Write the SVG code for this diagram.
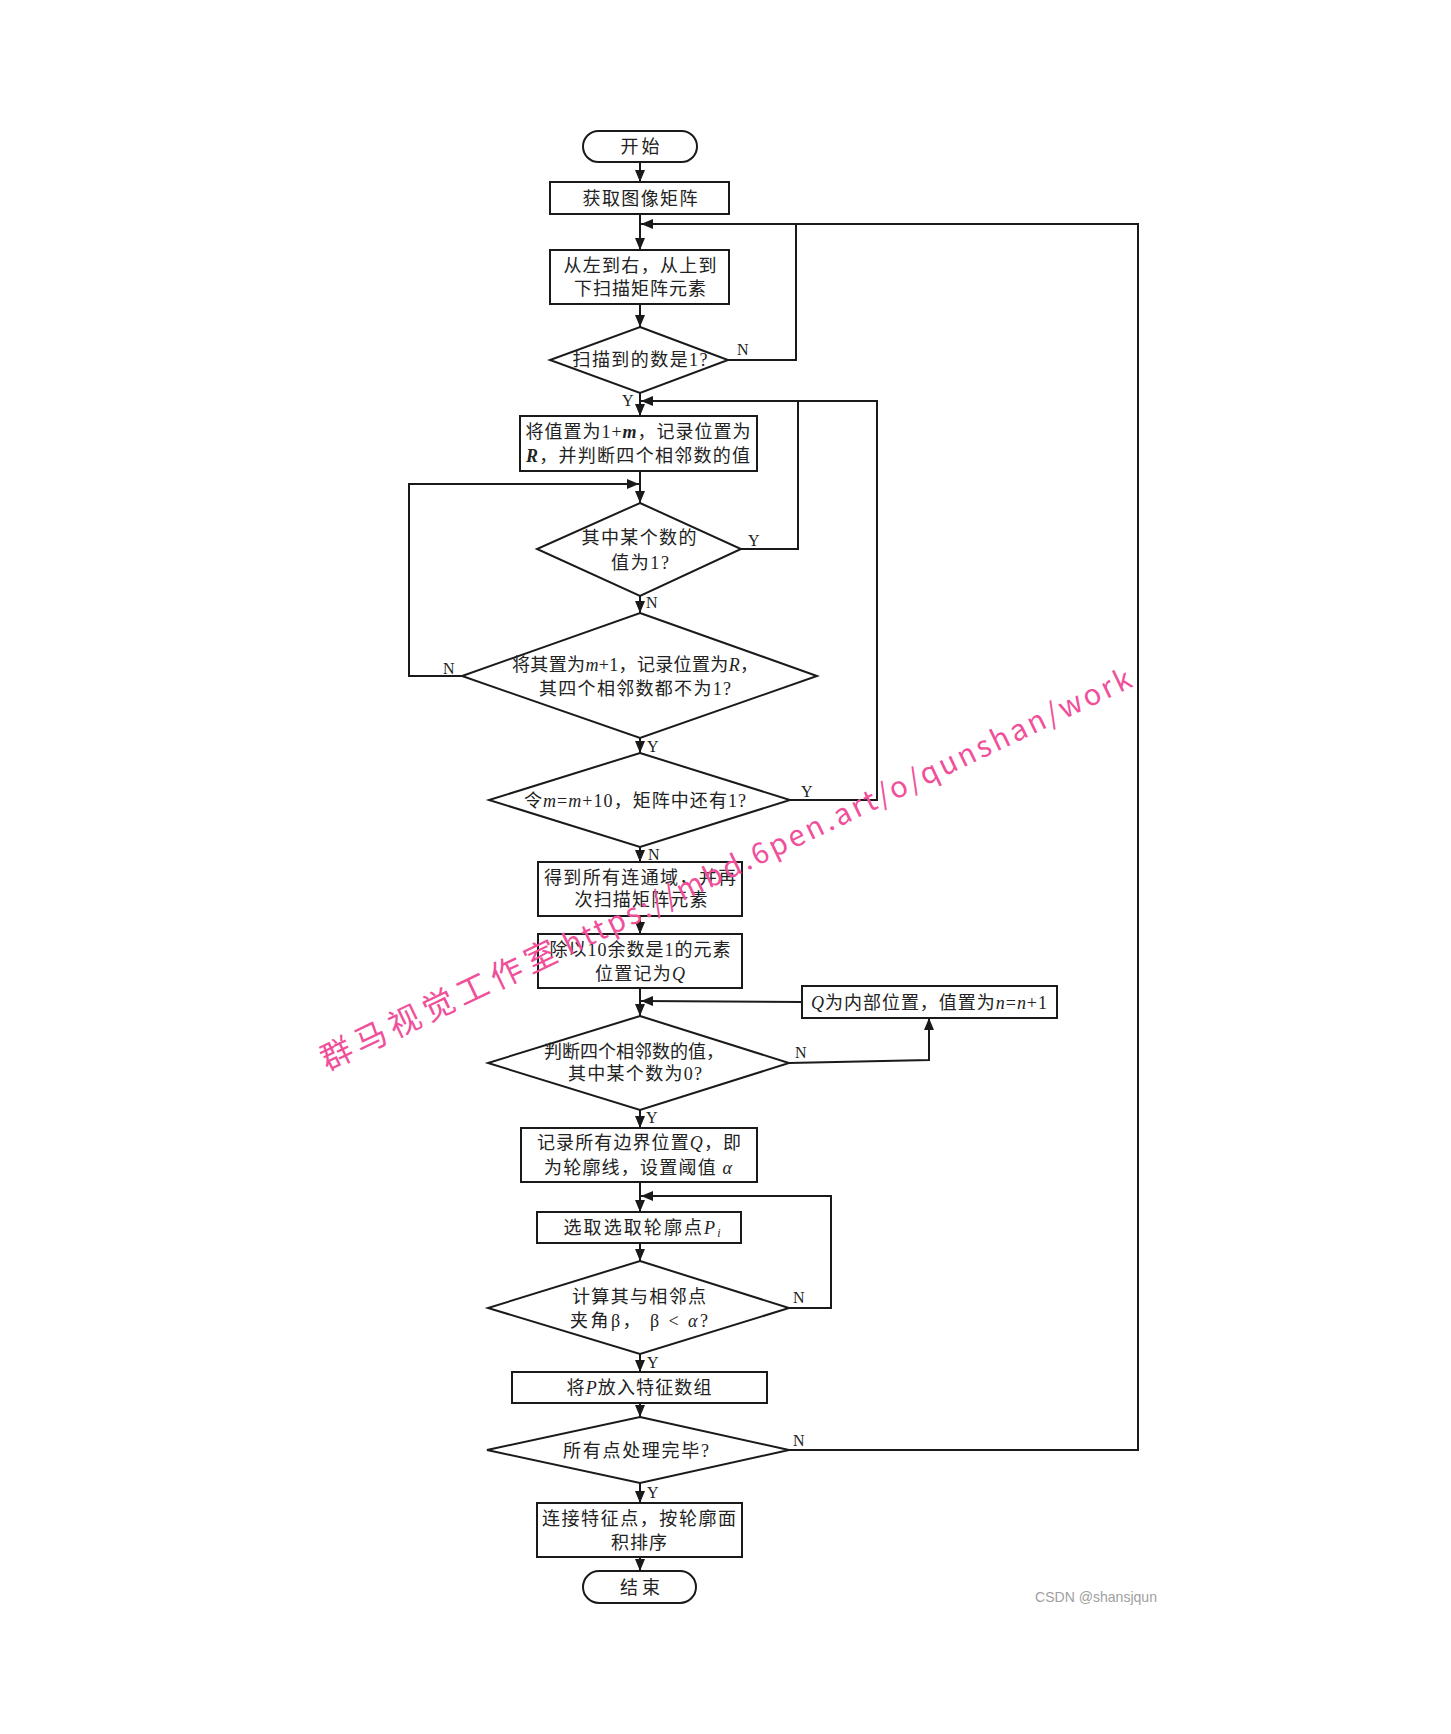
<svg xmlns="http://www.w3.org/2000/svg" width="1451" height="1734" viewBox="0 0 1451 1734">
<style>
.box{fill:#fff;stroke:#1a1a1a;stroke-width:2}
.ln{fill:none;stroke:#1a1a1a;stroke-width:2}
.arr{fill:none;stroke:#1a1a1a;stroke-width:2;marker-end:url(#ah)}
.t{font-family:'Liberation Serif','Noto Sans CJK SC',serif;font-size:18px;fill:#222;text-anchor:middle}
.lb{font-family:'Liberation Serif',serif;font-size:16px;fill:#222}
.i{font-style:italic}
.bi{font-style:italic;font-weight:bold}
.wm{font-family:'Noto Sans CJK SC','Noto Sans',sans-serif;fill:#f0509a}
</style>
<defs>
<marker id="ah" markerUnits="userSpaceOnUse" markerWidth="12" markerHeight="10" refX="12" refY="5" orient="auto">
<path d="M0,0 L12,5 L0,10 z" fill="#1a1a1a"/>
</marker>
</defs>
<rect width="1451" height="1734" fill="#fff"/>

<g id="connectors">
<path class="arr" d="M640,162 V182"/>
<path class="arr" d="M640,214 V250"/>
<path class="arr" d="M640,304 V327"/>
<path class="arr" d="M640,393 V416"/>
<path class="arr" d="M640,471 V503"/>
<path class="arr" d="M640,596 V613"/>
<path class="arr" d="M640,738 V753"/>
<path class="arr" d="M640,847 V862"/>
<path class="arr" d="M640,916 V934"/>
<path class="arr" d="M640,988 V1016"/>
<path class="arr" d="M640,1110 V1128"/>
<path class="arr" d="M640,1182 V1212"/>
<path class="arr" d="M640,1243 V1261"/>
<path class="arr" d="M640,1354 V1372"/>
<path class="arr" d="M640,1403 V1417"/>
<path class="arr" d="M640,1483 V1503"/>
<path class="arr" d="M640,1557 V1571"/>
<path class="ln" d="M728,360 H796 V224"/>
<path class="arr" d="M789,1450 H1138 V224 H641"/>
<path class="ln" d="M741,549 H798 V401"/>
<path class="arr" d="M790,800 H877 V401 H641"/>
<path class="arr" d="M462,676 H409 V484 H639"/>
<path class="arr" d="M802,1002 L641,1001"/>
<path class="arr" d="M789,1063 L929,1060 V1018"/>
<path class="arr" d="M789,1308 H831 V1196 H641"/>
<text class="lb" x="737" y="355">N</text>
<text class="lb" x="622" y="406">Y</text>
<text class="lb" x="748" y="546">Y</text>
<text class="lb" x="646" y="608">N</text>
<text class="lb" x="443" y="674">N</text>
<text class="lb" x="647" y="752">Y</text>
<text class="lb" x="801" y="797">Y</text>
<text class="lb" x="648" y="860">N</text>
<text class="lb" x="795" y="1058">N</text>
<text class="lb" x="646" y="1123">Y</text>
<text class="lb" x="793" y="1303">N</text>
<text class="lb" x="647" y="1368">Y</text>
<text class="lb" x="793" y="1446">N</text>
<text class="lb" x="647" y="1498">Y</text>
</g>

<g id="start">
<rect class="box" x="583" y="131" width="114" height="31" rx="15.5"/>
<text class="t" x="640" y="152.5" textLength="39" lengthAdjust="spacing">开始</text>
</g>
<g id="get-matrix">
<rect class="box" x="550" y="182" width="179" height="32"/>
<text class="t" x="640" y="204.5" textLength="115" lengthAdjust="spacing">获取图像矩阵</text>
</g>
<g id="scan">
<rect class="box" x="550" y="250" width="179" height="54"/>
<text class="t" x="640" y="271.5" textLength="153" lengthAdjust="spacing">从左到右，从上到</text>
<text class="t" x="640" y="294.5" textLength="132" lengthAdjust="spacing">下扫描矩阵元素</text>
</g>
<g id="dec-is1">
<polygon class="box" points="640,327 728,360 640,393 550,360"/>
<text class="t" x="640" y="365.5" textLength="135" lengthAdjust="spacing">扫描到的数是1?</text>
</g>
<g id="set-value">
<rect class="box" x="520" y="416" width="237" height="55"/>
<text class="t" x="638" y="437.5" textLength="225" lengthAdjust="spacing">将值置为1+<tspan class="bi">m</tspan>，记录位置为</text>
<text class="t" x="638" y="461.5" textLength="224" lengthAdjust="spacing"><tspan class="bi">R</tspan>，并判断四个相邻数的值</text>
</g>
<g id="dec-neighbor1">
<polygon class="box" points="640,503 741,549 640,596 537,549"/>
<text class="t" x="639" y="543.5" textLength="115" lengthAdjust="spacing">其中某个数的</text>
<text class="t" x="640" y="568.5" textLength="58" lengthAdjust="spacing">值为1?</text>
</g>
<g id="dec-none1">
<polygon class="box" points="640,613 817,676 640,738 462,676"/>
<text class="t" x="635" y="670.5" textLength="246" lengthAdjust="spacing">将其置为<tspan class="i">m</tspan>+1，记录位置为<tspan class="i">R</tspan>，</text>
<text class="t" x="635" y="694.5" textLength="192" lengthAdjust="spacing">其四个相邻数都不为1?</text>
</g>
<g id="dec-has1">
<polygon class="box" points="640,753 790,800 640,847 489,800"/>
<text class="t" x="635" y="806.5" textLength="222" lengthAdjust="spacing">令<tspan class="i">m</tspan>=<tspan class="i">m</tspan>+10，矩阵中还有1?</text>
</g>
<g id="connected">
<rect class="box" x="538" y="862" width="204" height="54"/>
<text class="t" x="640" y="883.5" textLength="192" lengthAdjust="spacing">得到所有连通域，并再</text>
<text class="t" x="641" y="905.5" textLength="133" lengthAdjust="spacing">次扫描矩阵元素</text>
</g>
<g id="mod10">
<rect class="box" x="538" y="934" width="204" height="54"/>
<text class="t" x="640" y="955.5" textLength="181" lengthAdjust="spacing">除以10余数是1的元素</text>
<text class="t" x="640" y="979.5" textLength="90" lengthAdjust="spacing">位置记为<tspan class="i">Q</tspan></text>
</g>
<g id="inner">
<rect class="box" x="802" y="986" width="255" height="32"/>
<text class="t" x="929" y="1008.5" textLength="236" lengthAdjust="spacing"><tspan class="i">Q</tspan>为内部位置，值置为<tspan class="i">n</tspan>=<tspan class="i">n</tspan>+1</text>
</g>
<g id="dec-zero">
<polygon class="box" points="640,1016 789,1063 640,1110 488,1063"/>
<text class="t" x="634" y="1057.5" textLength="180" lengthAdjust="spacing">判断四个相邻数的值，</text>
<text class="t" x="635" y="1079.5" textLength="134" lengthAdjust="spacing">其中某个数为0?</text>
</g>
<g id="boundary">
<rect class="box" x="521" y="1128" width="236" height="54"/>
<text class="t" x="639" y="1148.5" textLength="204" lengthAdjust="spacing">记录所有边界位置<tspan class="i">Q</tspan>，即</text>
<text class="t" x="638" y="1173.5" textLength="188" lengthAdjust="spacing">为轮廓线，设置阈值 <tspan class="i">α</tspan></text>
</g>
<g id="pick">
<rect class="box" x="537" y="1212" width="204" height="31"/>
<text class="t" x="642" y="1233.5" textLength="157" lengthAdjust="spacing">选取选取轮廓点<tspan class="i">P</tspan><tspan class="i" font-size="12" dy="3">i</tspan></text>
</g>
<g id="dec-angle">
<polygon class="box" points="640,1261 789,1308 640,1354 488,1308"/>
<text class="t" x="639" y="1302.5" textLength="134" lengthAdjust="spacing">计算其与相邻点</text>
<text class="t" x="639" y="1326.5" textLength="138" lengthAdjust="spacing">夹角β， β &lt; <tspan class="i">α</tspan>?</text>
</g>
<g id="feature">
<rect class="box" x="512" y="1372" width="255" height="31"/>
<text class="t" x="639" y="1393.5" textLength="145" lengthAdjust="spacing">将<tspan class="i">P</tspan>放入特征数组</text>
</g>
<g id="dec-done">
<polygon class="box" points="640,1417 789,1450 640,1483 487,1450"/>
<text class="t" x="636" y="1456.5" textLength="146" lengthAdjust="spacing">所有点处理完毕?</text>
</g>
<g id="connect">
<rect class="box" x="537" y="1503" width="205" height="54"/>
<text class="t" x="639" y="1524.5" textLength="194" lengthAdjust="spacing">连接特征点，按轮廓面</text>
<text class="t" x="639" y="1548.5" textLength="56" lengthAdjust="spacing">积排序</text>
</g>
<g id="end">
<rect class="box" x="583" y="1571" width="113" height="32" rx="16"/>
<text class="t" x="640" y="1593.5" textLength="40" lengthAdjust="spacing">结束</text>
</g>

<text x="1035" y="1602" font-family="'Liberation Sans',sans-serif" font-size="15" fill="#a0a0a0" textLength="122" lengthAdjust="spacingAndGlyphs">CSDN @shansjqun</text>
<g transform="translate(327,1071) rotate(-25.5)">
<text class="wm" x="0" y="0" font-size="32" textLength="258" lengthAdjust="spacing">群马视觉工作室</text>
<text class="wm" x="268" y="0" font-size="29" textLength="626" lengthAdjust="spacing">https://mbd.6pen.art/o/qunshan/work</text>
</g>
</svg>
